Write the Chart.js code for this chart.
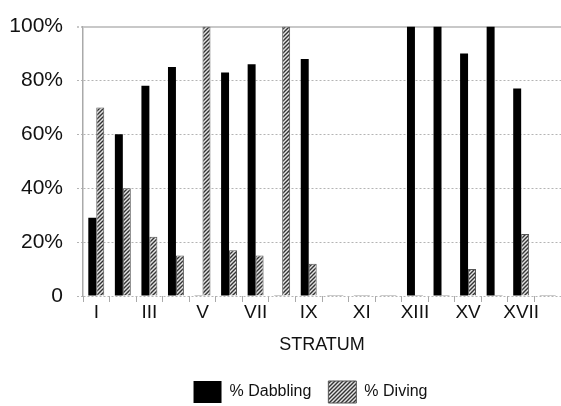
<!DOCTYPE html>
<html>
<head>
<meta charset="utf-8">
<script src="https://cdn.jsdelivr.net/npm/chart.js@4/dist/chart.umd.min.js"></script>
<style>
  html, body { margin: 0; padding: 0; background: #fff; }
  #wrap { width: 561px; height: 406px; }
</style>
</head>
<body>
<div id="wrap"><canvas id="c" width="561" height="406"></canvas></div>
<script>
const strata = ['I','II','III','IV','V','VI','VII','VIII','IX','X','XI','XII','XIII','XIV','XV','XVI','XVII','XVIII'];
const dabbling = [29, 60, 78, 85, 0, 83, 86, 0, 88, 0, 0, 0, 100, 100, 90, 100, 77, 0];
const diving   = [70, 40, 22, 15, 100, 17, 15, 100, 12, 0, 0, 0, 0, 0, 10, 0, 23, 0];
const yTicks = [0, 20, 40, 60, 80, 100];

function hatch() {
  const s = 4;
  const c = document.createElement('canvas');
  c.width = s; c.height = s;
  const g = c.getContext('2d');
  g.fillStyle = '#e4e4e4';
  g.fillRect(0, 0, s, s);
  g.strokeStyle = '#333';
  g.lineWidth = 1.4;
  g.beginPath();
  g.moveTo(-1, s + 1); g.lineTo(s + 1, -1);
  g.moveTo(-1, 1); g.lineTo(1, -1);
  g.moveTo(s - 1, s + 1); g.lineTo(s + 1, s - 1);
  g.stroke();
  return g.createPattern(c, 'repeat');
}
const pat = hatch();
const font = 'Liberation Sans, Arial, Helvetica, sans-serif';

const shiftLegend = {
  id: 'shiftLegend',
  afterLayout(chart) {
    const l = chart.legend;
    l.left += 30; l.right += 30;
    l.top += 7; l.bottom += 7;
  }
};

new Chart(document.getElementById('c'), {
  type: 'bar',
  data: {
    labels: strata,
    datasets: [
      {
        label: '% Dabbling',
        data: dabbling,
        backgroundColor: ctx => (ctx.raw === 0 ? '#999' : '#000'),
        borderWidth: 0,
        minBarLength: 1,
        categoryPercentage: 0.6,
        barPercentage: 1.0
      },
      {
        label: '% Diving',
        data: diving,
        backgroundColor: ctx => (ctx.raw === 0 ? '#999' : pat),
        borderColor: ctx => (ctx.raw === 0 ? '#999' : '#555'),
        borderWidth: ctx => (ctx.raw === 0 ? 0 : 1),
        minBarLength: 1,
        categoryPercentage: 0.6,
        barPercentage: 1.0
      }
    ]
  },
  options: {
    responsive: false,
    animation: false,
    devicePixelRatio: 1,
    layout: { padding: { top: 15, right: 0, left: 0, bottom: 0 } },
    plugins: {
      tooltip: { enabled: false },
      legend: {
        position: 'bottom',
        labels: {
          boxWidth: 28,
          boxHeight: 22,
          padding: 17,
          color: '#111',
          font: { family: font, size: 16 }
        }
      }
    },
    scales: {
      x: {
        afterFit: s => { s.height = 61; },
        grid: {
          display: true,
          drawOnChartArea: false,
          drawTicks: true,
          tickLength: 6,
          color: '#aaa'
        },
        border: { display: false },
        ticks: {
          autoSkip: false,
          maxRotation: 0,
          padding: -1,
          color: '#111',
          font: { family: font, size: 19 },
          callback: (v, i) => (i % 2 === 0 ? strata[i] : '')
        },
        title: {
          display: true,
          text: 'STRATUM',
          color: '#111',
          padding: { top: 0, bottom: 1 },
          font: { family: font, size: 18 }
        }
      },
      y: {
        min: 0,
        max: 100,
        afterFit: s => { s.width = 83; },
        grid: {
          color: ctx => (ctx.tick && ctx.tick.value === 100 ? '#c8c8c8' : '#b4b4b4'),
          lineWidth: ctx => (ctx.tick && ctx.tick.value === 100 ? 2 : 1),
          tickLength: 6,
          tickBorderDash: [2, 2]
        },
        border: {
          display: true,
          color: '#aaa',
          width: 1.5,
          dash: ctx => (ctx.tick && ctx.tick.value === 100 ? [] : [2, 2])
        },
        ticks: {
          stepSize: 10,
          padding: 14,
          color: '#111',
          font: { family: font, size: 21 },
          callback: v => (yTicks.includes(v) ? (v === 0 ? '0' : v + '%') : '')
        }
      }
    }
  },
  plugins: [shiftLegend]
});
</script>
</body>
</html>
